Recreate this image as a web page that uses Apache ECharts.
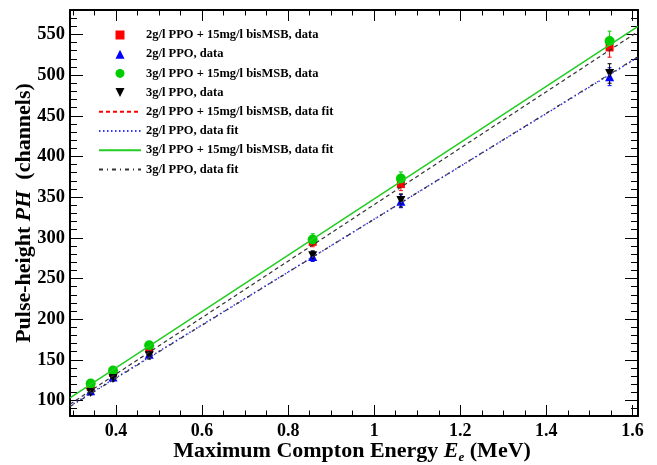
<!DOCTYPE html>
<html>
<head>
<meta charset="utf-8">
<script src="https://cdn.jsdelivr.net/npm/echarts@6/dist/echarts.min.js"></script>
<style>
html,body{margin:0;padding:0;background:#fff;}
#c{width:657px;height:465px;}
</style>
</head>
<body>
<div id="c"></div>
<script>
// ---- data ----
var energies = [0.341, 0.393, 0.477, 0.857, 1.062, 1.547];
var ppo2bis = [117, 134, 164, 295, 366, 534];
var ppo2bisErr = [3, 3, 4, 6, 8, 12];
var ppo2 = [112, 129, 157, 277, 345, 498];
var ppo2Err = [3, 3, 4, 6, 8, 11];
var ppo3bis = [121, 137, 168, 298, 373, 542];
var ppo3bisErr = [3, 3, 4, 7, 8, 12];
var ppo3 = [110, 127, 155, 278, 346, 502];
var ppo3Err = [3, 3, 4, 6, 8, 12];

// fit lines: values at the left and right edges of the frame
var fitX = [0.293, 1.613];
var ppo2bisFit = [95.5, 553.5];
var ppo2Fit = [93.4, 521.9];
var ppo3bisFit = [103.4, 560.0];
var ppo3Fit = [92.6, 522.6];

var xMajor = [0.4, 0.6, 0.8, 1.0, 1.2, 1.4, 1.6];
var xMinor = [0.3,0.35,0.45,0.5,0.55,0.65,0.7,0.75,0.85,0.9,0.95,1.05,1.1,1.15,1.25,1.3,1.35,1.45,1.5,1.55];
var yMajor = [100,150,200,250,300,350,400,450,500,550];
var yMinor = [];
for (var v = 90; v <= 570; v += 10) { if (v % 50 !== 0) yMinor.push(v); }

var names = {
  r: '2g/l PPO + 15mg/l bisMSB, data',
  b: '2g/l PPO, data',
  g: '3g/l PPO + 15mg/l bisMSB, data',
  k: '3g/l PPO, data',
  rf: '2g/l PPO + 15mg/l bisMSB, data fit',
  bf: '2g/l PPO, data fit',
  gf: '3g/l PPO + 15mg/l bisMSB, data fit',
  kf: '3g/l PPO, data fit'
};

var FONT = '"Liberation Serif","DejaVu Serif",serif';
var XMIN = 0.293, XMAX = 1.613, YMIN = 81, YMAX = 580;
var SQUARE = 'path://M0,0 L10,0 L10,10 L0,10 Z';
var TRI = 'path://M5,0 L10,10 L0,10 Z';
var INV_TRI = 'path://M0,0 L10,0 L5,10 Z';

function pts(ys) { return energies.map(function (x, i) { return [x, ys[i]]; }); }
function errPts(ys, es) { return energies.map(function (x, i) { return [x, ys[i], es[i]]; }); }
function fitPts(ys) { return fitX.map(function (x, i) { return [x, ys[i]]; }); }

function errSeries(ys, es, color) {
  return {
    type: 'custom', silent: true, xAxisIndex: 0, yAxisIndex: 0,
    data: errPts(ys, es),
    renderItem: function (params, api) {
      var x = api.value(0), y = api.value(1), e = api.value(2);
      var top = api.coord([x, y + e]);
      var bot = api.coord([x, y - e]);
      var st = { stroke: color, lineWidth: 1 };
      return { type: 'group', children: [
        { type: 'line', shape: { x1: top[0], y1: top[1], x2: bot[0], y2: bot[1] }, style: st },
        { type: 'line', shape: { x1: top[0] - 2, y1: top[1], x2: top[0] + 2, y2: top[1] }, style: st },
        { type: 'line', shape: { x1: bot[0] - 2, y1: bot[1], x2: bot[0] + 2, y2: bot[1] }, style: st }
      ]};
    }
  };
}

function fitSeries(name, ys, color, type, width) {
  return {
    name: name, type: 'line', xAxisIndex: 0, yAxisIndex: 0,
    data: fitPts(ys), symbol: 'none', showSymbol: false, silent: true,
    lineStyle: { color: color, type: type, width: width },
    itemStyle: { color: color }
  };
}

function scatterSeries(name, ys, color, symbol, size) {
  return {
    name: name, type: 'scatter', xAxisIndex: 0, yAxisIndex: 0,
    data: pts(ys), symbol: symbol, symbolSize: size, symbolKeepAspect: true,
    itemStyle: { color: color, opacity: 1 }
  };
}

var tickStyle = { color: '#000', width: 1 };
function xAx(pos, values, len, main) {
  return {
    type: 'value', position: pos, min: XMIN, max: XMAX,
    axisLine: { show: main, onZero: false, lineStyle: { color: '#000', width: 2 } },
    axisTick: { show: true, inside: true, length: len, customValues: values, lineStyle: tickStyle },
    axisLabel: (main && pos === 'bottom') ? {
      show: true, customValues: xMajor, margin: 6,
      fontFamily: FONT, fontWeight: 'bold', fontSize: 18, color: '#000',
      formatter: function (v) { return String(Math.round(v * 10) / 10); }
    } : { show: false },
    splitLine: { show: false }
  };
}
function yAx(pos, values, len, main) {
  return {
    type: 'value', position: pos, min: YMIN, max: YMAX,
    axisLine: { show: main, onZero: false, lineStyle: { color: '#000', width: 2 } },
    axisTick: { show: true, inside: true, length: len, customValues: values, lineStyle: tickStyle },
    axisLabel: (main && pos === 'left') ? {
      show: true, customValues: yMajor, margin: 5,
      fontFamily: FONT, fontWeight: 'bold', fontSize: 18.5, color: '#000'
    } : { show: false },
    splitLine: { show: false }
  };
}

var hideSym = { color: 'rgba(0,0,0,0)', borderWidth: 0, opacity: 0 };

var chart = echarts.init(document.getElementById('c'), null, { renderer: 'canvas' });
chart.setOption({
  animation: false,
  backgroundColor: '#fff',
  grid: { left: 70, right: 19, top: 10, bottom: 49, containLabel: false },
  xAxis: [
    xAx('bottom', xMajor, 11, true),
    xAx('bottom', xMinor, 5.5, false),
    xAx('top', xMajor, 11, true),
    xAx('top', xMinor, 5.5, false)
  ],
  yAxis: [
    yAx('left', yMajor, 13, true),
    yAx('left', yMinor, 7, false),
    yAx('right', yMajor, 13, true),
    yAx('right', yMinor, 7, false)
  ],
  legend: {
    orient: 'vertical', left: 93, top: 23,
    itemWidth: 42, itemHeight: 9, itemGap: 5.2,
    symbolKeepAspect: true,
    selectedMode: false,
    textStyle: { fontFamily: FONT, fontWeight: 'bold', fontSize: 12.5, color: '#000', lineHeight: 14 },
    data: [
      { name: names.r, icon: SQUARE },
      { name: names.b, icon: TRI },
      { name: names.g, icon: 'circle' },
      { name: names.k, icon: INV_TRI },
      { name: names.rf, lineStyle: { color: '#ff0000' }, itemStyle: hideSym },
      { name: names.bf, itemStyle: hideSym },
      { name: names.gf, itemStyle: hideSym },
      { name: names.kf, itemStyle: hideSym }
    ]
  },
  series: [
    fitSeries(names.rf, ppo2bisFit, '#333333', [4, 3], 1.2),
    fitSeries(names.bf, ppo2Fit, '#3333ff', [1.5, 2.5], 1.5),
    fitSeries(names.gf, ppo3bisFit, '#22cc22', 'solid', 1.5),
    fitSeries(names.kf, ppo3Fit, '#333333', [4, 4, 1, 4], 1.2),
    errSeries(ppo2bis, ppo2bisErr, '#ff0000'),
    scatterSeries(names.r, ppo2bis, '#ff0000', SQUARE, 8),
    errSeries(ppo2, ppo2Err, '#0000ff'),
    scatterSeries(names.b, ppo2, '#0000ff', TRI, 9),
    errSeries(ppo3bis, ppo3bisErr, '#00cc00'),
    scatterSeries(names.g, ppo3bis, '#00cc00', 'circle', 10),
    errSeries(ppo3, ppo3Err, '#000000'),
    scatterSeries(names.k, ppo3, '#000000', INV_TRI, 9)
  ],
  graphic: [
    {
      type: 'text', x: 352, y: 451,
      style: {
        text: '{a|Maximum Compton Energy }{i|E}{s|e}{a| (MeV)}',
        align: 'center', verticalAlign: 'middle',
        rich: {
          a: { fontFamily: FONT, fontWeight: 'bold', fontSize: 22, lineHeight: 26, verticalAlign: 'middle', fill: '#000' },
          i: { fontFamily: FONT, fontWeight: 'bold', fontStyle: 'italic', fontSize: 22, lineHeight: 26, verticalAlign: 'middle', fill: '#000' },
          s: { fontFamily: FONT, fontWeight: 'bold', fontStyle: 'italic', fontSize: 13, lineHeight: 12, verticalAlign: 'bottom', fill: '#000' }
        }
      }
    },
    {
      type: 'text', x: 24, y: 213, rotation: Math.PI / 2,
      style: {
        text: '{a|Pulse-height }{i|PH}{a|  (channels)}',
        align: 'center', verticalAlign: 'middle',
        rich: {
          a: { fontFamily: FONT, fontWeight: 'bold', fontSize: 22, fill: '#000' },
          i: { fontFamily: FONT, fontWeight: 'bold', fontStyle: 'italic', fontSize: 22, fill: '#000' }
        }
      }
    }
  ]
});
</script>
</body>
</html>
